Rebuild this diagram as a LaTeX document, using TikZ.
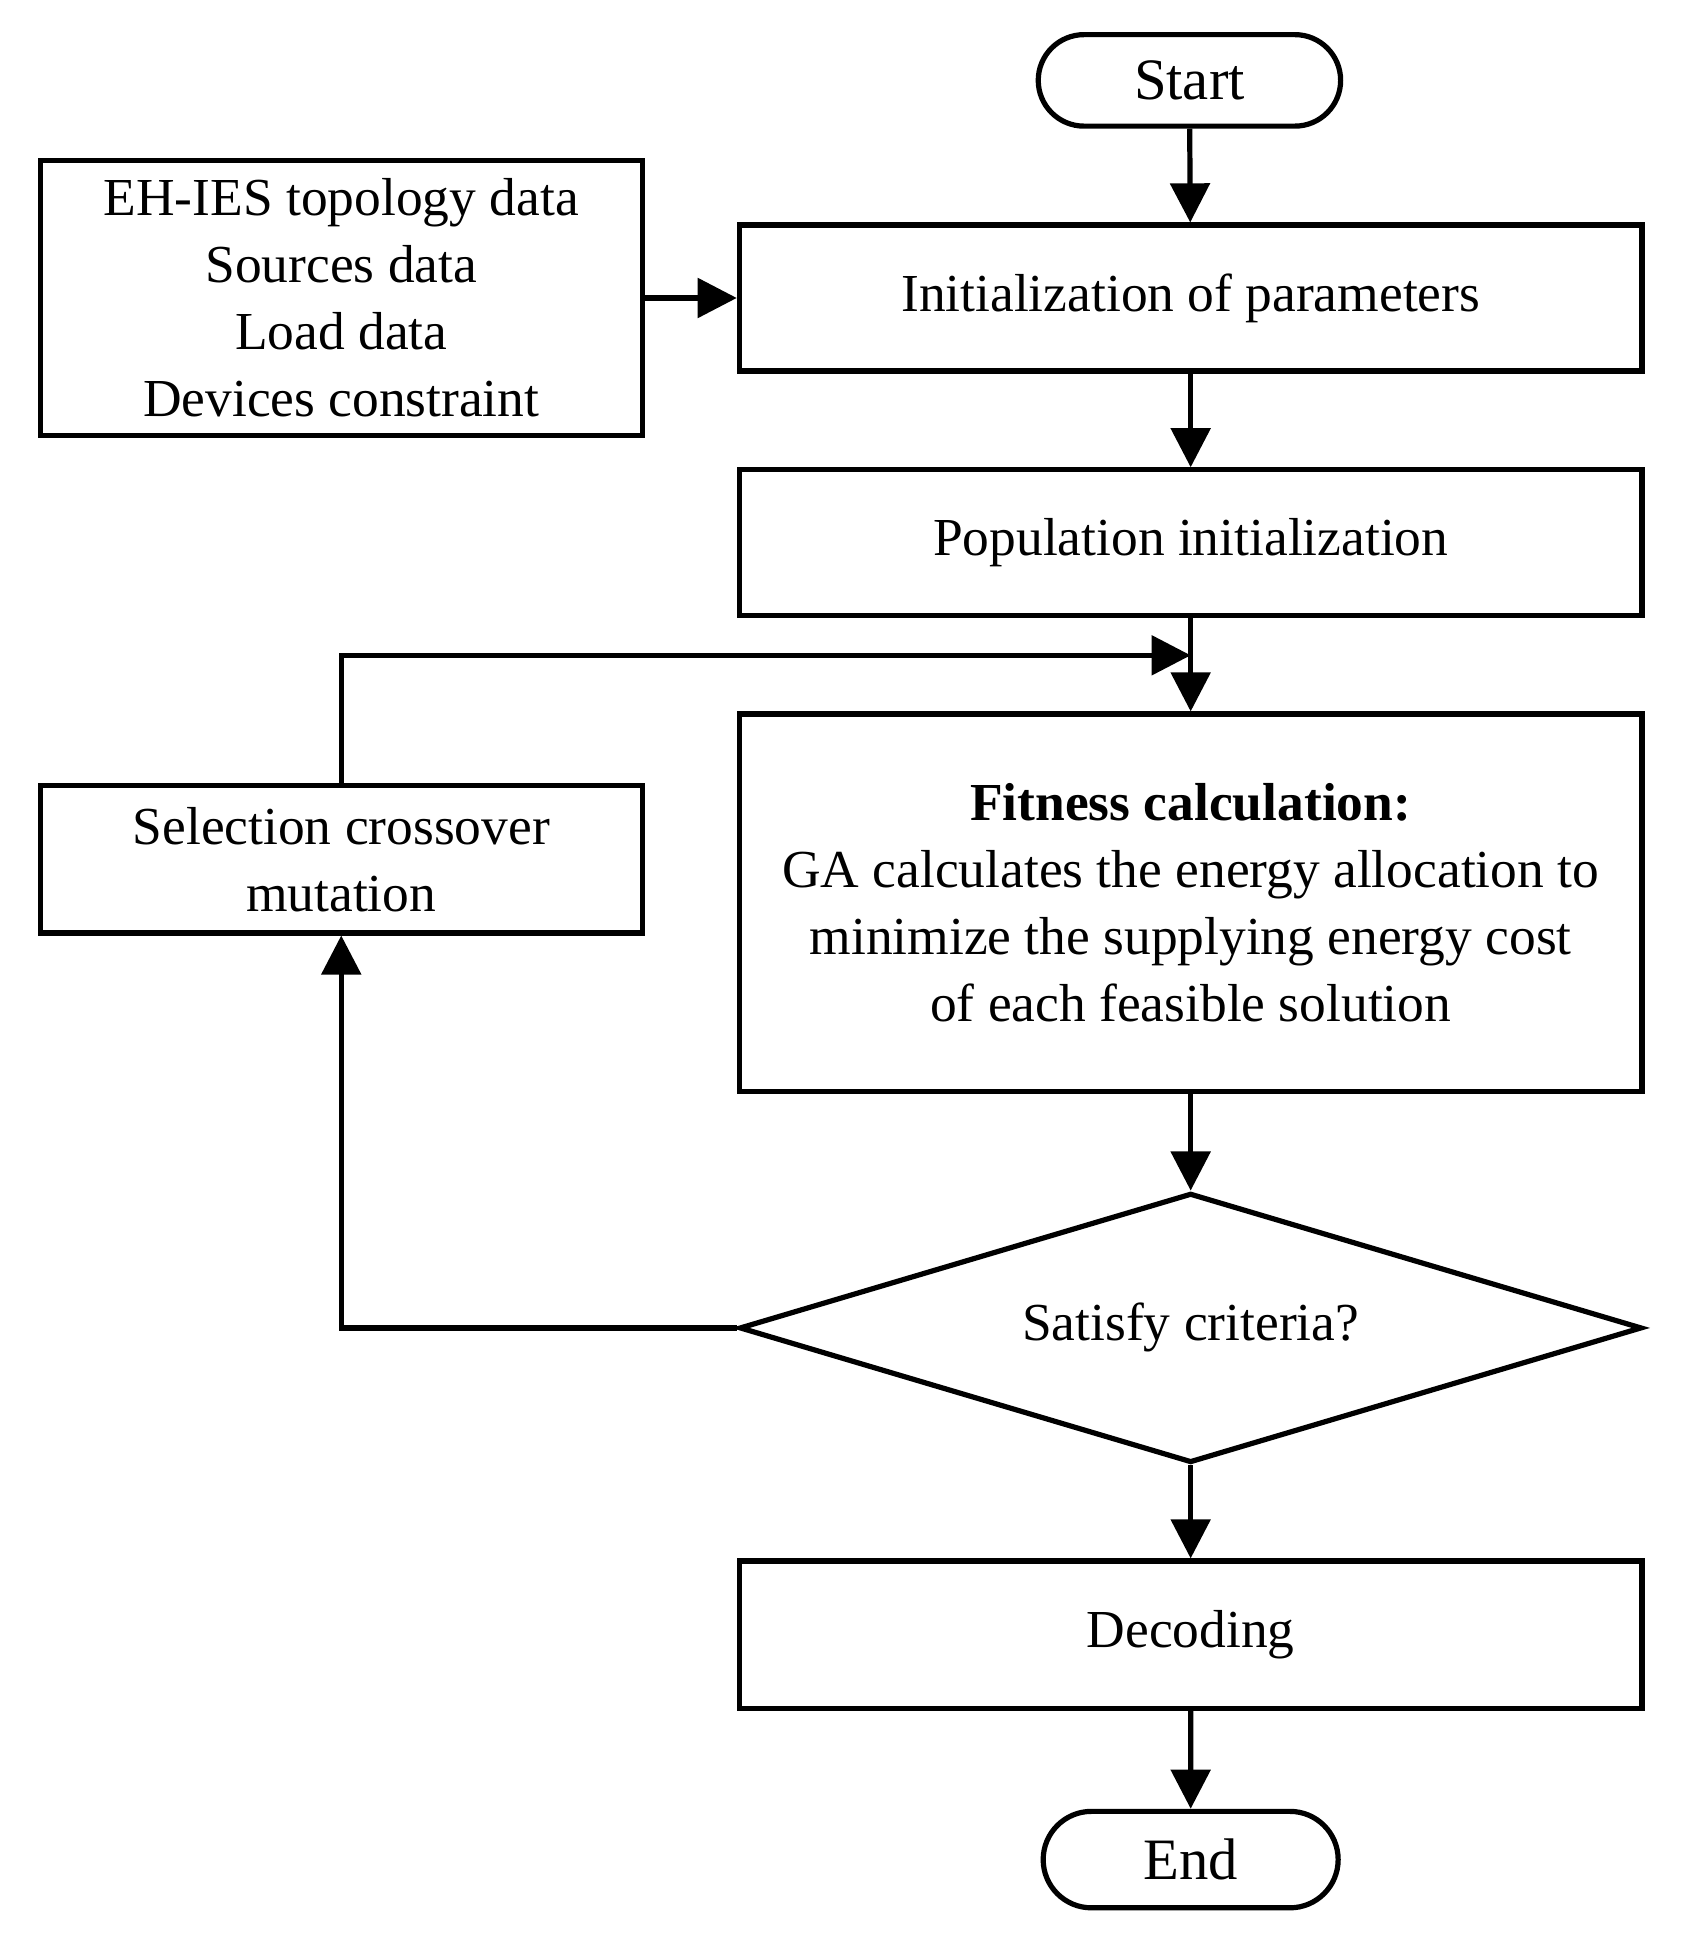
\documentclass[tikz,border=0pt]{standalone}
\usepackage{fontspec}
\setmainfont{Liberation Serif}
\usetikzlibrary{shapes.geometric,shapes.misc,arrows.meta}
\begin{document}
\begin{tikzpicture}[x=0.1mm,y=-0.1mm,every path/.style={line width=1.2pt},
  box/.style={draw,rectangle,minimum width=7.3cm,align=center,inner sep=0pt,font=\fontsize{12.3}{15.4}\selectfont},
  pill/.style={draw,rounded rectangle,align=center,font=\fontsize{13.5}{15}\selectfont},
  arr/.style={-{Triangle[length=9pt,width=9pt]}}]
\useasboundingbox (0,0) rectangle (1360,1565);
\node[pill,minimum width=2.68cm,minimum height=0.74cm] (start) at (962,65) {Start};
\node[box,minimum width=4.87cm,minimum height=2.22cm] (data) at (276,241) {EH-IES topology data\\Sources data\\Load data\\Devices constraint};
\node[box,minimum height=1.18cm] (init) at (963,241) {Initialization of parameters};
\node[box,minimum height=1.18cm] (pop) at (963,439) {Population initialization};
\node[box,minimum height=3.05cm] (fit) at (963,730) {\textbf{Fitness calculation:}\\GA calculates the energy allocation to\\minimize the supplying energy cost\\of each feasible solution};
\node[box,minimum width=4.87cm,minimum height=1.19cm] (sel) at (276,695) {Selection crossover\\mutation};
\node[draw,diamond,aspect=3.35,minimum width=7.3cm,minimum height=2.18cm,inner sep=0pt,font=\fontsize{12.3}{15.4}\selectfont] (crit) at (963,1074) {Satisfy criteria?};
\node[box,minimum height=1.19cm] (dec) at (963,1322) {Decoding};
\node[pill,minimum width=2.62cm,minimum height=0.78cm] (end) at (963,1504) {End};
\coordinate (join) at (963,530);
\draw[arr] (start) to (init);
\draw[arr] (data) to (init);
\draw[arr] (init) to (pop);
\draw[arr] (pop) to (fit);
\draw[arr] (sel.north) |- (join);
\draw[arr] (fit) to (crit);
\draw[arr] (crit.west) -| (sel.south);
\draw[arr] (crit) to (dec);
\draw[arr] (dec) to (end);
\end{tikzpicture}
\end{document}
